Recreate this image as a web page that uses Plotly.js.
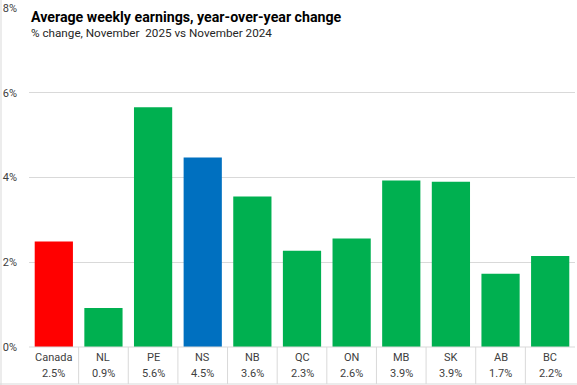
<!DOCTYPE html>
<html><head><meta charset="utf-8">
<script src="https://cdn.plot.ly/plotly-3.0.1.min.js"></script>
<style>html,body{margin:0;padding:0;background:#fff}#c{width:577px;height:385px}</style>
</head><body><div id="c"></div>
<script>
const categories = ["Canada","NL","PE","NS","NB","QC","ON","MB","SK","AB","BC"];
const values = [2.49, 0.92, 5.66, 4.47, 3.55, 2.27, 2.56, 3.93, 3.90, 1.73, 2.15];
const valueLabels = ["2.5%","0.9%","5.6%","4.5%","3.6%","2.3%","2.6%","3.9%","3.9%","1.7%","2.2%"];
const barColors = ["#ff0000","#00b050","#00b050","#0070c0","#00b050","#00b050","#00b050","#00b050","#00b050","#00b050","#00b050"];
const yTicks = [0,2,4,6,8];

const W=577,H=385,ml=29,mr=2,mt=8,mb=38;
const pw=W-ml-mr, ph=H-mt-mb;
const px = x => (x-ml)/pw;
const py = y => (H-mb-y)/ph;

const font = "Roboto, 'Liberation Sans', sans-serif";
const annotations = [];
categories.forEach((c,i)=>{
  annotations.push({x:c,xref:'x',y:py(357),yref:'paper',text:c,showarrow:false,
    font:{family:font,size:11,color:'#404040'},xanchor:'center',yanchor:'middle'});
  annotations.push({x:c,xref:'x',y:py(374),yref:'paper',text:valueLabels[i],showarrow:false,
    font:{family:font,size:11,color:'#404040'},xanchor:'center',yanchor:'middle'});
});
annotations.push({x:0,xref:'paper',y:py(17),yref:'paper',text:'<b>Average weekly earnings, year-over-year change</b>',
  showarrow:false,xanchor:'left',yanchor:'middle',font:{family:font,size:14.2,color:'#000'}});
annotations.push({x:0,xref:'paper',y:py(33),yref:'paper',text:'% change, November  2025 vs November 2024',
  showarrow:false,xanchor:'left',yanchor:'middle',font:{family:font,size:11.7,color:'#262626'}});

const shapes = [];
for(let i=0;i<categories.length-1;i++){
  shapes.push({type:'line',xref:'x',yref:'paper',x0:i+0.5,x1:i+0.5,y0:0,y1:py(384),line:{color:'#d9d9d9',width:1}});
}
shapes.push({type:'line',xref:'paper',yref:'paper',x0:0,x1:1,y0:0,y1:0,line:{color:'#d9d9d9',width:1}});
shapes.push({type:'line',xref:'paper',yref:'paper',x0:px(0),x1:px(577),y0:py(384),y1:py(384),line:{color:'#d9d9d9',width:1}});
shapes.push({type:'line',xref:'paper',yref:'paper',x0:px(1),x1:px(1),y0:py(0),y1:py(385),line:{color:'#d9d9d9',width:1}});

Plotly.newPlot('c',[{
  type:'bar',x:categories,y:values,marker:{color:barColors},hoverinfo:'skip'
}],{
  width:W,height:H,margin:{l:ml,r:mr,t:mt,b:mb,pad:0},
  paper_bgcolor:'#fff',plot_bgcolor:'#fff',
  bargap:0.23,showlegend:false,
  xaxis:{type:'category',showticklabels:false,showgrid:false,zeroline:false,showline:false,ticks:'',range:[-0.5,10.5]},
  yaxis:{range:[0,8],tickvals:yTicks,ticktext:yTicks.map(v=>v+'%'),showgrid:true,gridcolor:'#d9d9d9',gridwidth:1,
    zeroline:false,showline:false,ticks:'',tickfont:{family:font,size:11,color:'#404040'},ticklabelstandoff:11},
  annotations:annotations,shapes:shapes
},{staticPlot:true,displayModeBar:false});
</script></body></html>
